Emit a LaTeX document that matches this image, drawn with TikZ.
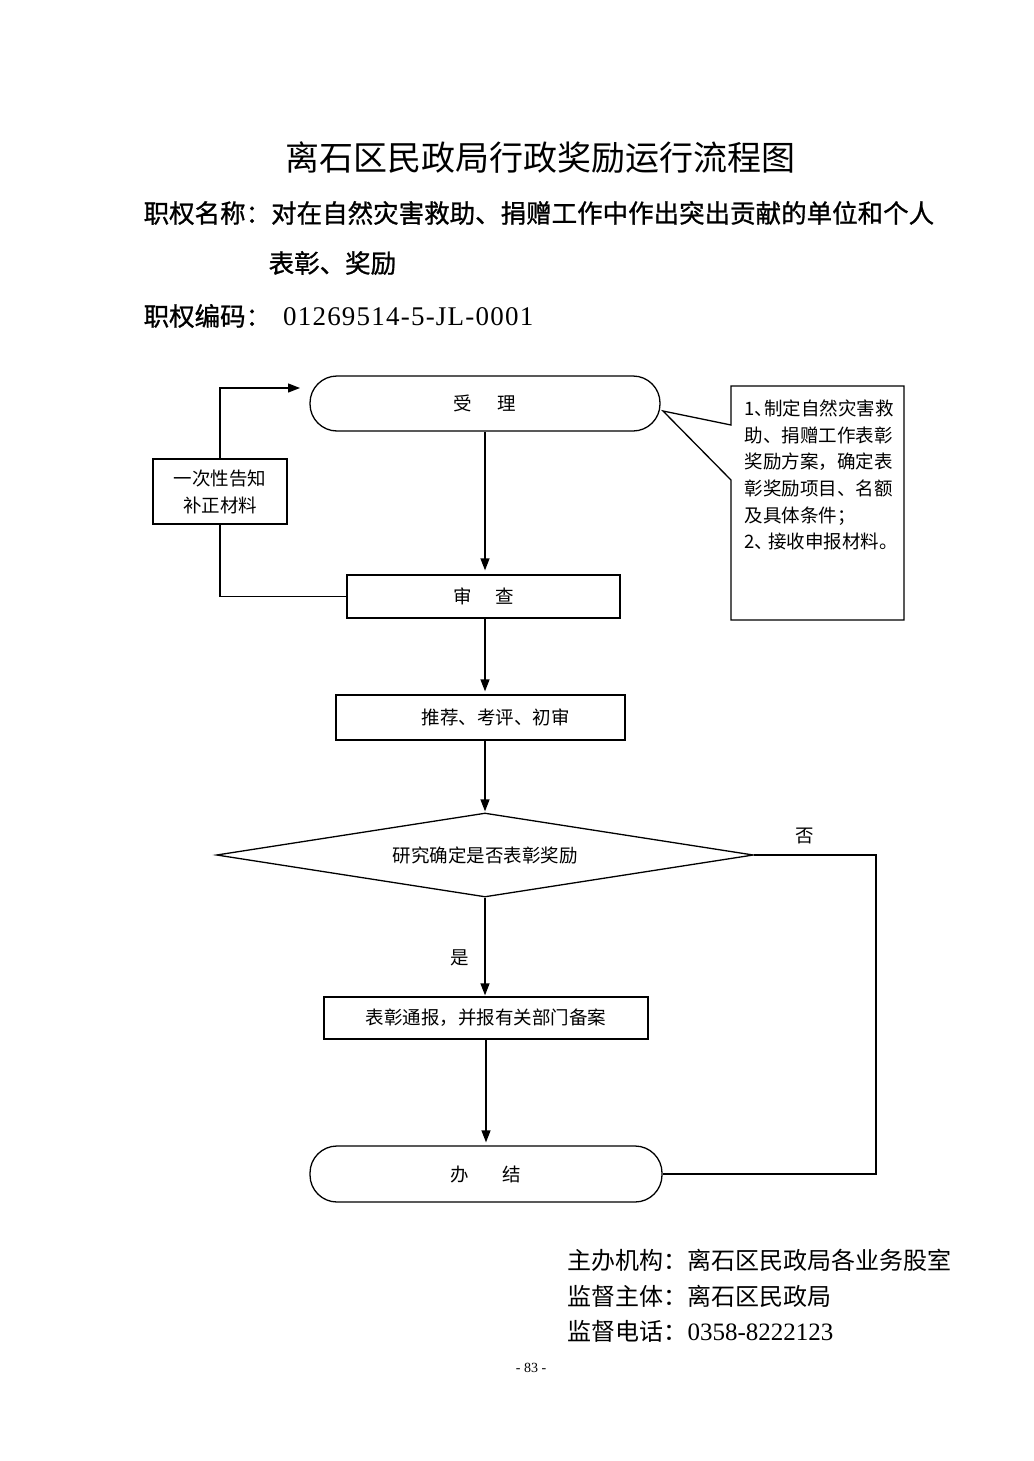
\documentclass[tikz,border=0pt]{standalone}
\usepackage{fontspec}
\setmainfont{Noto Sans CJK SC}
\newfontfamily\numfont{Liberation Serif}
\newfontfamily\seriffont{Liberation Serif}
\newfontfamily\cjkb[FakeBold=1]{Noto Sans CJK SC}
\usetikzlibrary{arrows.meta,shapes.geometric}
\newcommand{\fsmall}{\fontsize{18.5}{27}\selectfont}
\begin{document}
\begin{tikzpicture}[x=1pt,y=-1pt,line width=1.3pt,
  box/.style={draw,rectangle,inner sep=0pt,font=\fsmall},
  term/.style={draw,rectangle,rounded corners=27pt,inner sep=0pt,font=\fsmall},
  lbl/.style={inner sep=0pt,font=\fsmall},
  arr/.style={-{Triangle[length=12pt,width=9pt]}}]
\path[use as bounding box,fill=white] (0,0) rectangle (1033,1461);

% header
\node[inner sep=0pt,font=\fontsize{34}{40}\selectfont] (title) at (540,158) {离石区民政局行政奖励运行流程图};
\node[inner sep=0pt,anchor=west,font=\cjkb\fontsize{25.5}{30}\selectfont] (name1) at (143,213) {职权名称：对在自然灾害救助、捐赠工作中作出突出贡献的单位和个人};
\node[inner sep=0pt,anchor=west,font=\cjkb\fontsize{25.5}{30}\selectfont] (name2) at (268,263) {表彰、奖励};
\node[inner sep=0pt,anchor=west,font=\cjkb\fontsize{25.5}{30}\selectfont] (code) at (143,316) {职权编码：\hspace{12pt}{\numfont\addfontfeature{LetterSpace=4.5}\fontsize{27}{30}\selectfont 01269514-5-JL-0001}};

% flow nodes
\node[term,minimum width=350pt,minimum height=55pt] (acc) at (485,403.5) {受\hspace{26pt}理};
\node[box,minimum width=273pt,minimum height=43pt] (rev) at (483.5,596.5) {审\hspace{24pt}查};
\node[box,minimum width=134pt,minimum height=65pt,align=center] (notice) at (220,491.5) {一次性告知\\补正材料};
\node[box,minimum width=289pt,minimum height=45pt] (rec) at (480.5,717.5) {\hspace{30pt}推荐、考评、初审};
\node[draw,diamond,aspect=6.4,inner sep=0pt,minimum width=537pt,minimum height=84pt,font=\fsmall] (dec) at (485,855) {研究确定是否表彰奖励};
\node[box,minimum width=324pt,minimum height=42pt] (pr) at (486,1018) {表彰通报，并报有关部门备案};
\node[term,minimum width=352pt,minimum height=56pt] (end) at (486,1174) {办\hspace{34pt}结};

% callout
\coordinate (ctip) at (663,411);
\draw (731,425) -- (731,386) -- (904,386) -- (904,620) -- (731,620) -- (731,480) -- (ctip) -- cycle;
\node[inner sep=0pt,anchor=north west,align=left,font=\fontsize{18.5}{26.7}\selectfont] (note) at (744,399)
 {1、\kern-9pt 制定自然灾害救\\助、捐赠工作表彰\\奖励方案，确定表\\彰奖励项目、名额\\及具体条件；\\2、\kern-5pt 接收申报材料。};

% connectors
\coordinate (accin) at (300,388);
\draw[arr,shorten >=4pt] (acc.south) -- (acc.south |- rev.north);
\draw[arr,shorten >=3pt] (rev.south -| acc.south) -- (rec.north -| acc.south);
\draw (rev.west) -| (notice.south);
\draw[arr] (notice.north) |- (accin);
\draw[arr,shorten >=1pt] (rec.south -| acc.south) -- (dec.north);
\draw[arr,shorten >=1pt] (dec.south) -- (dec.south |- pr.north);
\draw[arr,shorten >=3pt] (pr.south) -- (end.north);
\coordinate (nr) at (876,855);
\coordinate (nb) at (876,1174);
\draw (dec.east) -- (nr) -- (nb) -- (end.east);
\node[lbl] (no) at (805,836) {否};
\node[lbl] (yes) at (460,958) {是};

% footer
\node[inner sep=0pt,anchor=west,font=\fontsize{24}{30}\selectfont] (f1) at (567,1260) {主办机构：离石区民政局各业务股室};
\node[inner sep=0pt,anchor=west,font=\fontsize{24}{30}\selectfont] (f2) at (567,1296) {监督主体：离石区民政局};
\node[inner sep=0pt,anchor=west,font=\fontsize{24}{30}\selectfont] (f3) at (567,1331) {监督电话：{\numfont\fontsize{25}{28}\selectfont 0358-8222123}};
\node[inner sep=0pt,font=\seriffont\fontsize{14}{16}\selectfont] (pg) at (531,1368) {- 83 -};
\end{tikzpicture}
\end{document}
